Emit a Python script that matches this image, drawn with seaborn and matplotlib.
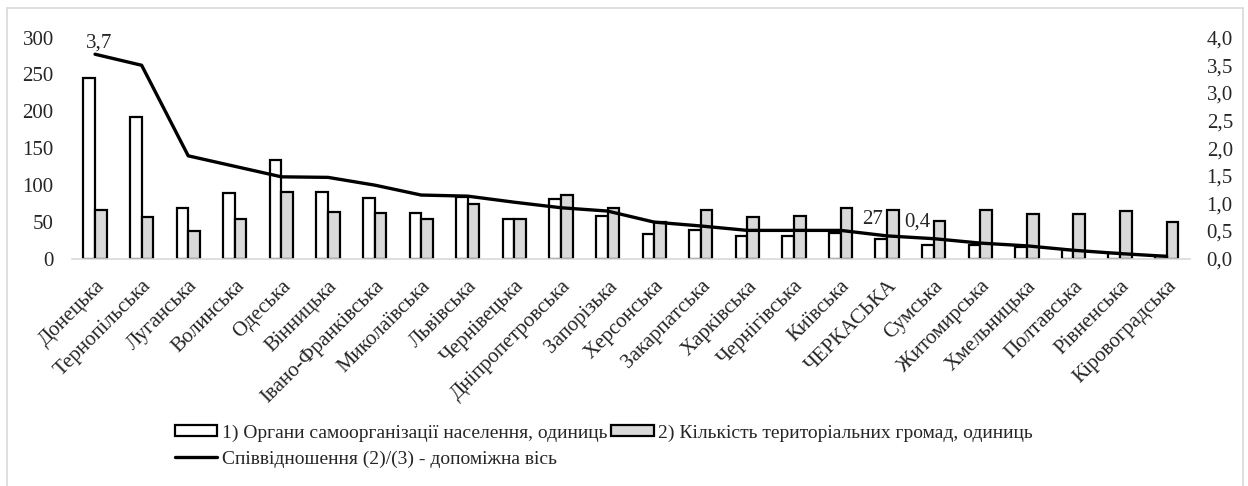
import numpy as np
import pandas as pd
import matplotlib
matplotlib.use("Agg")
import matplotlib.pyplot as plt
import seaborn as sns
from matplotlib.patches import Rectangle, Patch
from matplotlib.lines import Line2D
from matplotlib.ticker import FuncFormatter

regions = ["Донецька", "Тернопільська", "Луганська", "Волинська", "Одеська", "Вінницька",
           "Івано-Франківська", "Миколаївська", "Львівська", "Чернівецька", "Дніпропетровська",
           "Запорізька", "Херсонська", "Закарпатська", "Харківська", "Чернігівська", "Київська",
           "ЧЕРКАСЬКА", "Сумська", "Житомирська", "Хмельницька", "Полтавська", "Рівненська",
           "Кіровоградська"]
org_units = [245, 192, 69, 89, 134, 91, 82, 62, 84, 54, 81, 58, 34, 39, 30, 30, 35, 27, 19, 18, 16, 11, 8, 4]
communities = [66, 56, 37, 54, 91, 63, 62, 54, 74, 54, 86, 68, 49, 66, 57, 58, 69, 66, 51, 66, 60, 60, 64, 49]
ratio = [3.7, 3.5, 1.86, 1.67, 1.48, 1.47, 1.33, 1.15, 1.13, 1.02, 0.92, 0.86, 0.66, 0.59,
         0.51, 0.51, 0.51, 0.41, 0.36, 0.28, 0.23, 0.15, 0.09, 0.04]
series_names = ["1) Органи самоорганізації населення, одиниць",
                "2) Кількість територіальних громад, одиниць"]
line_name = "Співвідношення (2)/(3) - допоміжна вісь"
left_ticks = [0, 50, 100, 150, 200, 250, 300]
right_ticks = [0.0, 0.5, 1.0, 1.5, 2.0, 2.5, 3.0, 3.5, 4.0]

sns.set_theme(style="white")
plt.rcParams["font.family"] = ["Liberation Serif", "DejaVu Serif"]

FS = 14
TFS = 15
TXT = "#262626"

df = pd.DataFrame({
    "region": regions * 2,
    "value": org_units + communities,
    "series": [series_names[0]] * len(regions) + [series_names[1]] * len(regions),
})

fig = plt.figure(figsize=(12.48, 4.86), dpi=100)
ax = fig.add_axes([0.0575, 0.468, 0.896, 0.4545])

sns.barplot(data=df, x="region", y="value", hue="series", order=regions,
            hue_order=series_names, palette=["white", "#d9d9d9"], edgecolor="black",
            linewidth=1.6, width=0.5, errorbar=None, legend=False, ax=ax)

ax.set_xlim(-0.5, len(regions) - 0.5)
ax.set_ylim(0, 300)
ax.set_yticks(left_ticks)
ax.set_xlabel("")
ax.set_ylabel("")
for s in ["top", "left", "right"]:
    ax.spines[s].set_visible(False)
ax.spines["bottom"].set_color("#d9d9d9")
ax.spines["bottom"].set_linewidth(1.2)
ax.tick_params(axis="both", length=0, labelsize=TFS, colors=TXT)
ax.tick_params(axis="y", pad=13)
ax.set_xticks(range(len(regions)))
ax.set_xticklabels(regions, rotation=45, ha="right", rotation_mode="anchor", fontsize=TFS)
ax.tick_params(axis="x", pad=13)

ax2 = ax.twinx()
sns.lineplot(x=np.arange(len(regions)), y=ratio, color="black", linewidth=2.4, ax=ax2)
ax2.set_ylim(0, 4.0)
ax2.set_yticks(right_ticks)
ax2.yaxis.set_major_formatter(FuncFormatter(lambda v, p: f"{v:.1f}".replace(".", ",")))
for s in ["top", "left", "right", "bottom"]:
    ax2.spines[s].set_visible(False)
ax2.tick_params(axis="y", length=0, labelsize=TFS, colors=TXT, pad=12)
ax2.set_xlim(-0.5, len(regions) - 0.5)

# data labels
ax2.annotate("3,7", xy=(0, ratio[0]), xytext=(3, 8), textcoords="offset points",
             ha="center", va="center", fontsize=TFS, color=TXT)
ax.annotate(str(org_units[17]), xy=(17 - 0.125, org_units[17]), xytext=(-6.5, 14),
            textcoords="offset points", ha="center", va="center", fontsize=TFS, color=TXT)
ax2.annotate("0,4", xy=(17, ratio[17]), xytext=(21.5, 10), textcoords="offset points",
             ha="center", va="center", fontsize=TFS, color=TXT)

handles = [Patch(facecolor="white", edgecolor="black", linewidth=1.6),
           Line2D([], [], color="black", linewidth=2.4),
           Patch(facecolor="#d9d9d9", edgecolor="black", linewidth=1.6)]
labels = [series_names[0], line_name, series_names[1]]
fig.legend(handles, labels, loc="upper left", bbox_to_anchor=(0.140, 0.127), ncol=2,
           frameon=False, fontsize=FS, handlelength=2.2, handleheight=0.5,
           handletextpad=0.25, columnspacing=0.15, labelspacing=0.45, borderpad=0,
           borderaxespad=0)

fig.patches.append(Rectangle((7 / 1248, -0.05), 1236 / 1248, 1 - 8 / 486 + 0.05,
                             transform=fig.transFigure, fill=False, edgecolor="#d9d9d9",
                             linewidth=1.2, clip_on=False))

fig.savefig("out.png", dpi=100, facecolor="white")
